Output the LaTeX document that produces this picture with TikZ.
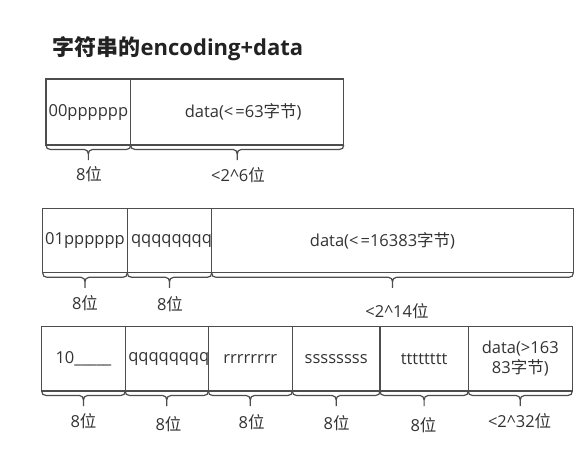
\documentclass[tikz,border=0pt]{standalone}
\usepackage{fontspec}
\setmainfont{Open Sans}
\newfontfamily\cjk{Noto Sans CJK SC}
\usetikzlibrary{calc}
\definecolor{linegray}{HTML}{4D4D4D}
\definecolor{textgray}{HTML}{333333}
\definecolor{titlegray}{HTML}{222222}
\newcommand\cellnode[7][]{%
  \node[cell, minimum width={#4-#3}, minimum height={#6-#5}, #1] (#2) at (#3,#5) {#7};}
\newcommand\ubrace[1]{%
  \coordinate (#1-m) at ($(#1.south west)!0.5!(#1.south east)$);
  \draw[bracestyle] (#1.south west) .. controls +(0,3) and +(-3,0) .. ++(4.5,4.5)
    -- ($(#1-m)+(-4,4.5)$) .. controls +(2.5,0) and +(0,-2.5) .. ($(#1-m)+(0,9)$) -- ++(0,6)
    ($(#1-m)+(0,9)$) .. controls +(0,-2.5) and +(-2.5,0) .. ($(#1-m)+(4,4.5)$)
    -- ($(#1.south east)+(-4.5,4.5)$) .. controls +(3,0) and +(0,3) .. (#1.south east);}
\begin{document}
\begin{tikzpicture}[x=1pt,y=-1pt,
  cell/.style={draw=linegray, line width=1.2pt, inner sep=0pt, outer sep=0pt,
    anchor=north west, text=textgray, font=\fontsize{16.5}{20}\selectfont},
  bracestyle/.style={draw=linegray, line width=1.2pt},
  lab/.style={inner sep=0pt, text=textgray, font=\fontsize{16.5}{20}\selectfont},
  title/.style={inner sep=0pt, anchor=west, text=titlegray, font=\fontsize{22}{26}\selectfont\bfseries}]
\useasboundingbox[fill=white] (0,0) rectangle (588,451);
\node[title] (title) at (52.5,49) {{\cjk\bfseries 字符串的}encoding+data};
% row 1
\cellnode{r1a}{46}{130.7}{79}{145}{\makebox[0pt]{00pppppp}}
\cellnode{r1b}{130.7}{343.7}{79}{145}{\makebox[0pt]{\hspace{12pt}data(<\kern2pt=63{\cjk 字节})}}
\ubrace{r1a}\ubrace{r1b}
\node[lab] (r1a-lab) at (89,174) {8{\cjk 位}};
\node[lab] (r1b-lab) at (238,175) {<2\textasciicircum 6{\cjk 位}};
% row 2
\cellnode{r2a}{42.7}{127.3}{208.3}{272.8}{\makebox[0pt]{01pppppp}}
\cellnode{r2b}{127.3}{211.7}{208.3}{272.8}{\makebox[0pt]{\hspace{4pt}qqqqqqqq}}
\cellnode{r2c}{211.7}{573.3}{208.3}{272.8}{\makebox[0pt]{\hspace{-20pt}data(<\kern2pt=16383{\cjk 字节})}}
\ubrace{r2a}\ubrace{r2b}\ubrace{r2c}
\node[lab] (r2a-lab) at (85,303) {8{\cjk 位}};
\node[lab] (r2b-lab) at (170,304) {8{\cjk 位}};
\node[lab] (r2c-lab) at (397,311) {<2\textasciicircum 14{\cjk 位}};
% row 3
\cellnode{r3a}{41.7}{125.2}{326.7}{391}{\makebox[0pt]{10\_\_\_\_\_}}
\cellnode{r3b}{125.2}{208.3}{326.7}{391}{\makebox[0pt]{\hspace{4pt}qqqqqqqq}}
\cellnode{r3c}{208.3}{292.3}{326.7}{391}{\makebox[0pt]{rrrrrrrr}}
\cellnode{r3d}{292.3}{380}{326.7}{391}{\makebox[0pt]{ssssssss}}
\cellnode{r3e}{380}{468.2}{326.7}{391}{\makebox[0pt]{tttttttt}}
\cellnode[align=center]{r3f}{468.2}{572.3}{326.7}{391}{data(>163\\83{\cjk 字节})}
\ubrace{r3a}\ubrace{r3b}\ubrace{r3c}\ubrace{r3d}\ubrace{r3e}\ubrace{r3f}
\node[lab] (r3a-lab) at (83.5,421.5) {8{\cjk 位}};
\node[lab] (r3b-lab) at (168.5,424) {8{\cjk 位}};
\node[lab] (r3c-lab) at (251.7,421.7) {8{\cjk 位}};
\node[lab] (r3d-lab) at (336.7,423) {8{\cjk 位}};
\node[lab] (r3e-lab) at (423.5,425.5) {8{\cjk 位}};
\node[lab] (r3f-lab) at (519.6,421.5) {<2\textasciicircum 32{\cjk 位}};
\end{tikzpicture}
\end{document}
